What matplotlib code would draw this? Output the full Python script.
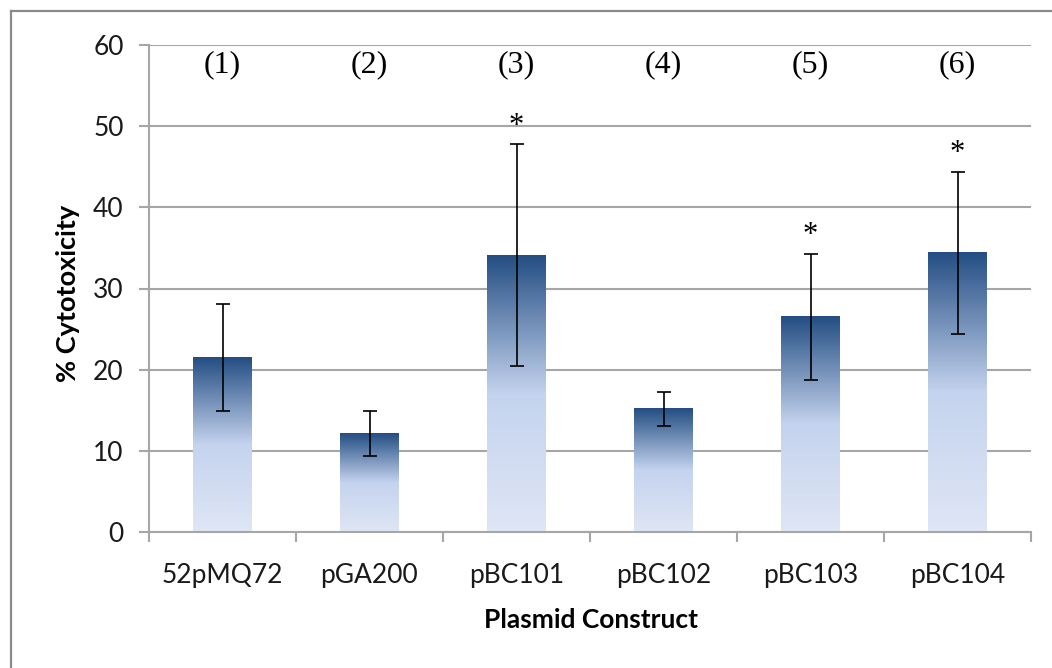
import numpy as np
import matplotlib
matplotlib.use('Agg')
import matplotlib.pyplot as plt
from matplotlib.colors import LinearSegmentedColormap
from matplotlib.lines import Line2D

# ---- data ----
constructs = ['52pMQ72', 'pGA200', 'pBC101', 'pBC102', 'pBC103', 'pBC104']
group_labels = ['(1)', '(2)', '(3)', '(4)', '(5)', '(6)']
cytotoxicity = [21.5, 12.1, 34.1, 15.2, 26.5, 34.4]
error = [6.6, 2.75, 13.7, 2.1, 7.8, 10.0]
significant = [False, False, True, False, True, True]
y_ticks = [0, 10, 20, 30, 40, 50, 60]
x_label = 'Plasmid Construct'
y_label = '% Cytotoxicity'

W, H = 1052, 668
fig = plt.figure(figsize=(W / 100, H / 100), dpi=100)
fig.patch.set_facecolor('white')
ax = fig.add_axes([149 / W, 1 - 532 / H, (1031 - 149) / W, (532 - 45) / H])

SANS = ['Lato', 'DejaVu Sans']
SERIF = ['Liberation Serif', 'DejaVu Serif']
GRID = '#a6a6a6'

cmap = LinearSegmentedColormap.from_list(
    'barfill', [(0.0, '#dfe6f5'), (0.5, '#c4d3ee'), (1.0, '#244e83')])
grad = np.linspace(0, 1, 256).reshape(-1, 1)

x = np.arange(len(constructs))
bars = ax.bar(x, cytotoxicity, width=0.4, color='none', zorder=2)
for b in bars:
    x0 = b.get_x()
    ax.imshow(grad, extent=[x0, x0 + b.get_width(), 0, b.get_height()],
              origin='lower', cmap=cmap, aspect='auto', zorder=2,
              interpolation='bilinear')

ax.errorbar(x, cytotoxicity, yerr=error, fmt='none', ecolor='black',
            elinewidth=1.2, capsize=4.8, capthick=1.2, zorder=3)

for i, lab in enumerate(group_labels):
    ax.text(x[i], 57.6, lab, ha='center', va='center', family=SERIF,
            fontsize=23, color='black')

for i, sig in enumerate(significant):
    if sig:
        ax.annotate('*', xy=(x[i], cytotoxicity[i] + error[i]),
                    xytext=(0, 2.5), textcoords='offset points',
                    ha='center', va='bottom', family=SERIF, fontsize=22)

ax.set_xlim(-0.5, len(constructs) - 0.5)
ax.set_ylim(0, 60)
ax.set_yticks(y_ticks)
ax.set_xticks(x)
ax.set_xticklabels(constructs, family=SANS, fontsize=19, color='#1a1a1a')
ax.set_yticklabels([str(v) for v in y_ticks], family=SANS, fontsize=19,
                   color='#1a1a1a')
ax.set_xticks(np.arange(-0.5, len(constructs), 1), minor=True)

ax.yaxis.grid(True, color=GRID, lw=1.5)
ax.set_axisbelow(True)
for s in ['top', 'right']:
    ax.spines[s].set_visible(False)
for s in ['left', 'bottom']:
    ax.spines[s].set_color(GRID)
    ax.spines[s].set_linewidth(1.5)

ax.tick_params(axis='y', length=7.2, width=1.5, color=GRID, pad=11)
ax.tick_params(axis='x', which='major', length=0, pad=22)
ax.tick_params(axis='x', which='minor', length=7.2, width=1.5, color=GRID)

fig.text(591 / W, 1 - 620 / H, x_label, ha='center', va='center',
         family=SANS, fontweight='bold', fontsize=19, color='black')
fig.text(68 / W, 1 - 293 / H, y_label, ha='center', va='center',
         rotation=90, family=SANS, fontweight='bold', fontsize=19.5,
         color='black')

# outer frame (partially visible in the reference)
fig.add_artist(Line2D([11 / W, 11 / W], [0, 1 - 11 / H], color='#8a8a8a',
                      lw=1.6, transform=fig.transFigure))
fig.add_artist(Line2D([11 / W, 1], [1 - 11 / H, 1 - 11 / H], color='#8a8a8a',
                      lw=1.6, transform=fig.transFigure))

fig.savefig('out.png', dpi=100)
